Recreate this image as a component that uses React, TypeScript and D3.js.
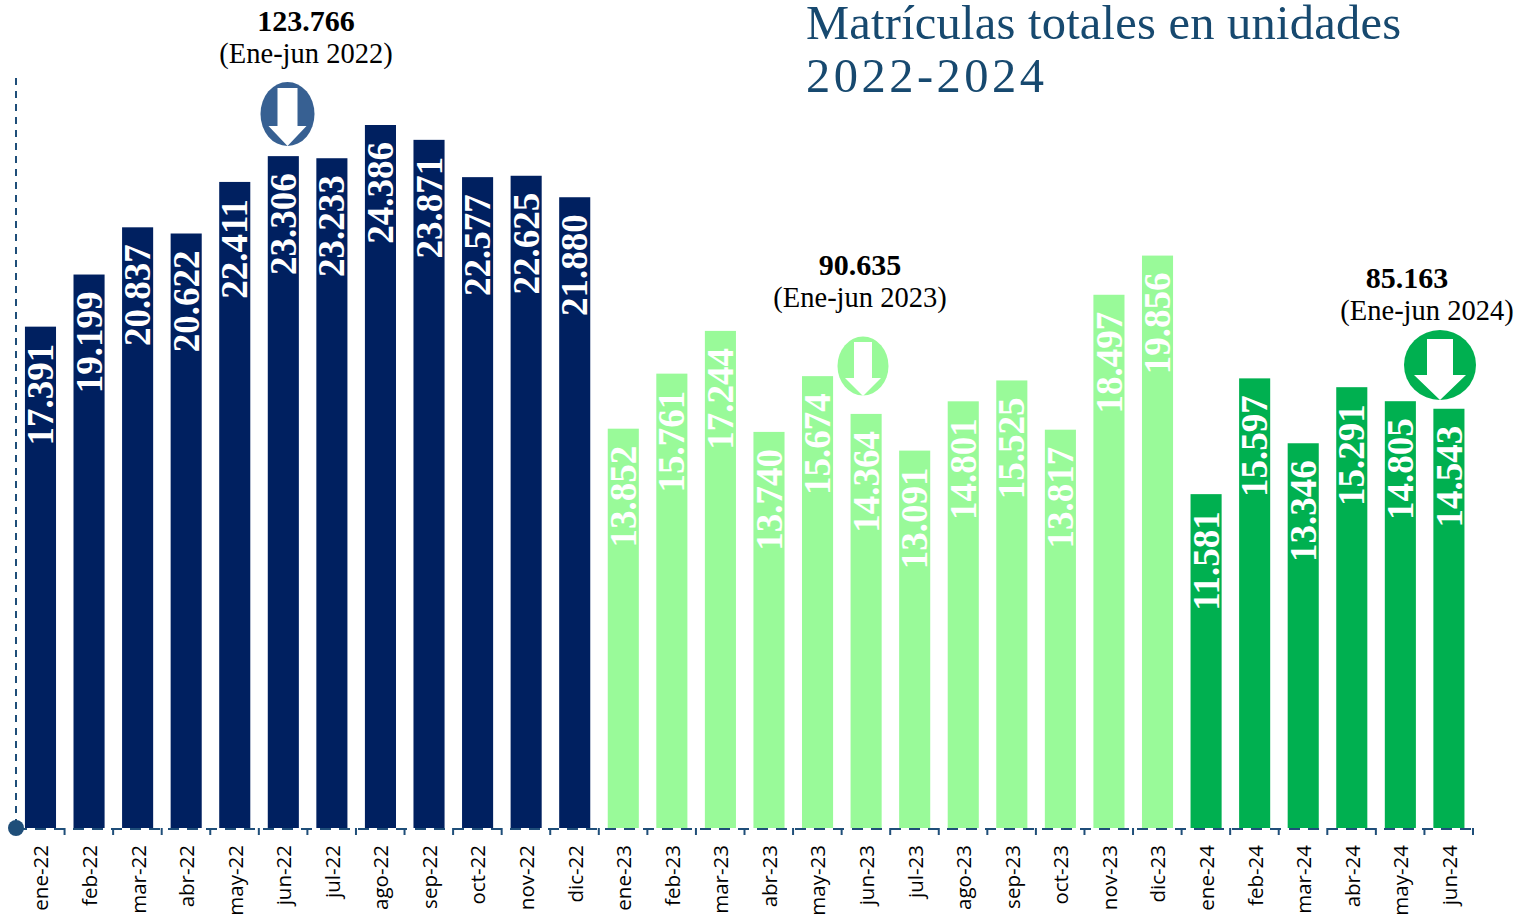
import React from 'react';
import * as d3 from 'd3';

const WIDTH = 1516;
const HEIGHT = 916;

const months = [
  'ene-22', 'feb-22', 'mar-22', 'abr-22', 'may-22', 'jun-22', 'jul-22', 'ago-22', 'sep-22', 'oct-22', 'nov-22', 'dic-22',
  'ene-23', 'feb-23', 'mar-23', 'abr-23', 'may-23', 'jun-23', 'jul-23', 'ago-23', 'sep-23', 'oct-23', 'nov-23', 'dic-23',
  'ene-24', 'feb-24', 'mar-24', 'abr-24', 'may-24', 'jun-24',
];
const values = [
  17391, 19199, 20837, 20622, 22411, 23306, 23233, 24386, 23871, 22577, 22625, 21880,
  13852, 15761, 17244, 13740, 15674, 14364, 13091, 14801, 15525, 13817, 18497, 19856,
  11581, 15597, 13346, 15291, 14805, 14543,
];
const years = ['22', '23', '24'];
const yearColors = ['#002060', '#99fa99', '#00b050'];
const totals = ['123.766', '90.635', '85.163'];
const totalLabels = ['(Ene-jun 2022)', '(Ene-jun 2023)', '(Ene-jun 2024)'];
const badgeColors = ['#376092', '#99fa99', '#00b050'];

const AXIS_COLOR = '#1f4e79';
const SERIF = '"Liberation Serif", serif';

const x = d3.scaleBand<string>().domain(months).range([16.2, 1473.2]).paddingInner(0.36).paddingOuter(0.18);
const y = d3.scaleLinear().domain([0, 24386]).range([828, 125]);
const color = d3.scaleOrdinal<string, string>().domain(years).range(yearColors);
const fmt = (v: number) => d3.format(',')(v).replace(',', '.');
const step = x.step();
const axisLeft = 16;

// Badge placement, one per year
const badges = [
  { cx: 287.5, cy: 114, rx: 27, ry: 32, shaft: 10, head: 19, top: 88, neck: 126, tip: 146 },
  { cx: 863, cy: 366, rx: 25.5, ry: 29.5, shaft: 9, head: 18, top: 342, neck: 378, tip: 396 },
  { cx: 1440, cy: 365, rx: 36, ry: 35, shaft: 13, head: 26, top: 339, neck: 375, tip: 400 },
];
const totalPos = [
  { x: 306, y1: 31, y2: 63 },
  { x: 860, y1: 275, y2: 307 },
  { x: 1407, y1: 288, y2: 320, x2: 1427 },
];

export default function App() {
  return (
    <svg width={WIDTH} height={HEIGHT} style={{ position: 'absolute', left: 0, top: 0, background: '#fff' }}>
      {/* title */}
      <g fontFamily={SERIF} fontSize={48.5} fill="#17496f">
        <text x={806} y={39} textLength={595} lengthAdjust="spacing">Matrículas totales en unidades</text>
        <text x={806} y={92} textLength={238} lengthAdjust="spacing">2022-2024</text>
      </g>

      {/* bars */}
      {months.map((m, i) => (
        <rect key={m} x={x(m)} y={y(values[i])} width={x.bandwidth()} height={y(0) - y(values[i])}
          fill={color(m.slice(-2))} />
      ))}

      {/* axis */}
      <line x1={axisLeft} x2={axisLeft} y1={78} y2={828} stroke={AXIS_COLOR} strokeWidth={2} strokeDasharray="7 6" />
      <line x1={axisLeft} x2={1473} y1={829} y2={829} stroke={AXIS_COLOR} strokeWidth={2} strokeDasharray="11 8" />
      {months.map((m, i) => (
        <line key={m} x1={axisLeft + step * (i + 1)} x2={axisLeft + step * (i + 1)} y1={828} y2={835}
          stroke={AXIS_COLOR} strokeWidth={2} />
      ))}
      <circle cx={axisLeft} cy={828} r={8} fill={AXIS_COLOR} />

      {/* value labels */}
      {months.map((m, i) => {
        const cx = (x(m) as number) + x.bandwidth() / 2;
        const top = y(values[i]) + 17;
        return (
          <text key={m} transform={`translate(${cx},${top}) rotate(-90)`} textAnchor="end" dy="0.34em"
            fontFamily={SERIF} fontWeight="bold" fontSize={37} fill="#fff">
            {fmt(values[i])}
          </text>
        );
      })}

      {/* month labels */}
      {months.map((m) => {
        const cx = (x(m) as number) + x.bandwidth() / 2 + 0.5;
        return (
          <text key={m} transform={`translate(${cx},845) rotate(-90)`} textAnchor="end" dy="0.36em"
            fontFamily='"Open Sans", sans-serif' fontSize={20.5} fill="#000">
            {m}
          </text>
        );
      })}

      {/* half-year totals */}
      {years.map((yr, i) => {
        const p = totalPos[i];
        return (
          <g key={yr} fontFamily={SERIF} fill="#000" textAnchor="middle">
            <text x={p.x} y={p.y1} fontWeight="bold" fontSize={30}>{totals[i]}</text>
            <text x={p.x2 ?? p.x} y={p.y2} fontSize={28.5}>{totalLabels[i]}</text>
          </g>
        );
      })}

      {/* down arrow badges */}
      {badges.map((b, i) => {
        const path = d3.path();
        path.moveTo(b.cx - b.shaft, b.top);
        path.lineTo(b.cx + b.shaft, b.top);
        path.lineTo(b.cx + b.shaft, b.neck);
        path.lineTo(b.cx + b.head, b.neck);
        path.lineTo(b.cx, b.tip);
        path.lineTo(b.cx - b.head, b.neck);
        path.lineTo(b.cx - b.shaft, b.neck);
        path.closePath();
        return (
          <g key={i}>
            <ellipse cx={b.cx} cy={b.cy} rx={b.rx} ry={b.ry} fill={badgeColors[i]} />
            <path d={path.toString()} fill="#fff" />
          </g>
        );
      })}
    </svg>
  );
}
